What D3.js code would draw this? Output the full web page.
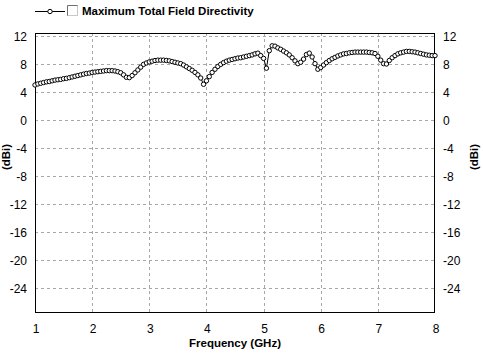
<!DOCTYPE html>
<html><head><meta charset="utf-8">
<script src="https://cdn.jsdelivr.net/npm/d3@7"></script>
<style>html,body{margin:0;padding:0;background:#fff;overflow:hidden}svg{display:block}text{font-family:Arial,"Liberation Sans",sans-serif}</style>
</head><body>
<script>
const seriesName = "Maximum Total Field Directivity";
const xTicks = [1,2,3,4,5,6,7,8];
const yTicks = [12,8,4,0,-4,-8,-12,-16,-20,-24];
const freqStart = 1, freqStep = 0.05;
const directivity = [
5.0,5.15,5.25,5.35,5.45,5.5,5.6,5.7,5.75,5.8,
5.9,5.95,6.05,6.15,6.25,6.35,6.45,6.55,6.65,6.7,
6.8,6.85,6.9,6.95,7.0,7.05,7.05,7.05,7.0,6.9,
6.75,6.45,6.1,6.05,6.35,6.75,7.15,7.55,7.95,8.15,
8.3,8.4,8.5,8.55,8.55,8.55,8.5,8.45,8.35,8.25,
8.15,8.05,7.85,7.6,7.35,7.1,6.8,6.45,6.0,5.1,
5.6,6.2,6.8,7.25,7.65,7.95,8.2,8.4,8.55,8.65,
8.75,8.85,8.9,9.0,9.1,9.2,9.3,9.45,9.55,9.2,
8.8,7.4,9.9,10.6,10.55,10.3,10.1,9.85,9.6,9.3,
8.9,8.45,8.05,8.25,8.7,9.35,9.55,9.0,8.05,7.25,
7.5,7.85,8.2,8.5,8.75,8.95,9.15,9.3,9.45,9.5,
9.6,9.65,9.7,9.7,9.7,9.7,9.7,9.65,9.6,9.5,
9.1,8.55,8.05,8.0,8.5,8.9,9.2,9.45,9.6,9.7,
9.8,9.8,9.75,9.7,9.6,9.5,9.4,9.3,9.25,9.2,9.2
];
const freqs = directivity.map((d,i)=> +(freqStart + i*freqStep).toFixed(2));

const W=483,H=357;
const svg=d3.select("body").append("svg").attr("width",W).attr("height",H);
const x=d3.scaleLinear().domain([1,8]).range([35,435]);
const y=d3.scaleLinear().domain([-192/7,87/7]).range([312,33]);
const gridColor="#a2aba2";

// grid
svg.append("g").selectAll("line.v").data(xTicks.slice(1,-1)).join("line")
  .attr("x1",d=>Math.round(x(d))+0.5).attr("x2",d=>Math.round(x(d))+0.5)
  .attr("y1",33).attr("y2",312).attr("stroke",gridColor).attr("stroke-dasharray","3,3");
svg.append("g").selectAll("line.h").data(yTicks).join("line")
  .attr("y1",d=>Math.round(y(d))+0.5).attr("y2",d=>Math.round(y(d))+0.5)
  .attr("x1",35).attr("x2",435).attr("stroke",gridColor).attr("stroke-dasharray","3,3");

// frame
svg.append("rect").attr("x",35.5).attr("y",33.5).attr("width",399).attr("height",279)
  .attr("fill","none").attr("stroke","#000").attr("stroke-width",1);

// axes labels
const fs=12;
svg.append("g").selectAll("text").data(yTicks).join("text")
  .attr("x",27).attr("y",d=>y(d)+4.5).attr("text-anchor","end").attr("font-size",fs).text(d=>d);
svg.append("g").selectAll("text").data(yTicks).join("text")
  .attr("x",443).attr("y",d=>y(d)+4.5).attr("text-anchor","start").attr("font-size",fs).text(d=>d);
svg.append("g").selectAll("text").data(xTicks).join("text")
  .attr("x",d=>x(d)+1).attr("y",333).attr("text-anchor","middle").attr("font-size",fs).text(d=>d);

svg.append("text").attr("x",235).attr("y",347).attr("text-anchor","middle")
  .attr("font-size",11.5).attr("font-weight","bold").text("Frequency (GHz)");
svg.append("text").attr("transform","translate(478,157) rotate(-90)").attr("text-anchor","middle")
  .attr("font-size",11.5).attr("font-weight","bold").text("(dBi)");
svg.append("text").attr("transform","translate(10,157) rotate(-90)").attr("text-anchor","middle")
  .attr("font-size",11.5).attr("font-weight","bold").text("(dBi)");

// series
const data=freqs.map((f,i)=>({f,v:directivity[i]}));
svg.append("path").datum(data).attr("fill","none").attr("stroke","#000").attr("stroke-width",1)
  .attr("d",d3.line().x(d=>x(d.f)).y(d=>y(d.v)));
svg.append("g").selectAll("circle").data(data).join("circle")
  .attr("cx",d=>x(d.f)).attr("cy",d=>y(d.v)).attr("r",2.2)
  .attr("fill","#fff").attr("stroke","#000").attr("stroke-width",1);

// legend
const lg=svg.append("g");
lg.append("line").attr("x1",35).attr("x2",65).attr("y1",11.5).attr("y2",11.5).attr("stroke","#000");
lg.append("circle").attr("cx",50).attr("cy",11.5).attr("r",2.2).attr("fill","#fff").attr("stroke","#000");
lg.append("rect").attr("x",67.5).attr("y",5.5).attr("width",10).attr("height",10).attr("fill","#fff").attr("stroke","#c8c8c8");
lg.append("path").attr("d","M67.5,15.5V5.5H77.5").attr("fill","none").attr("stroke","#707070");
lg.append("text").attr("x",82).attr("y",15).attr("font-size",11.5).attr("font-weight","bold").text(seriesName);
</script>
</body></html>
